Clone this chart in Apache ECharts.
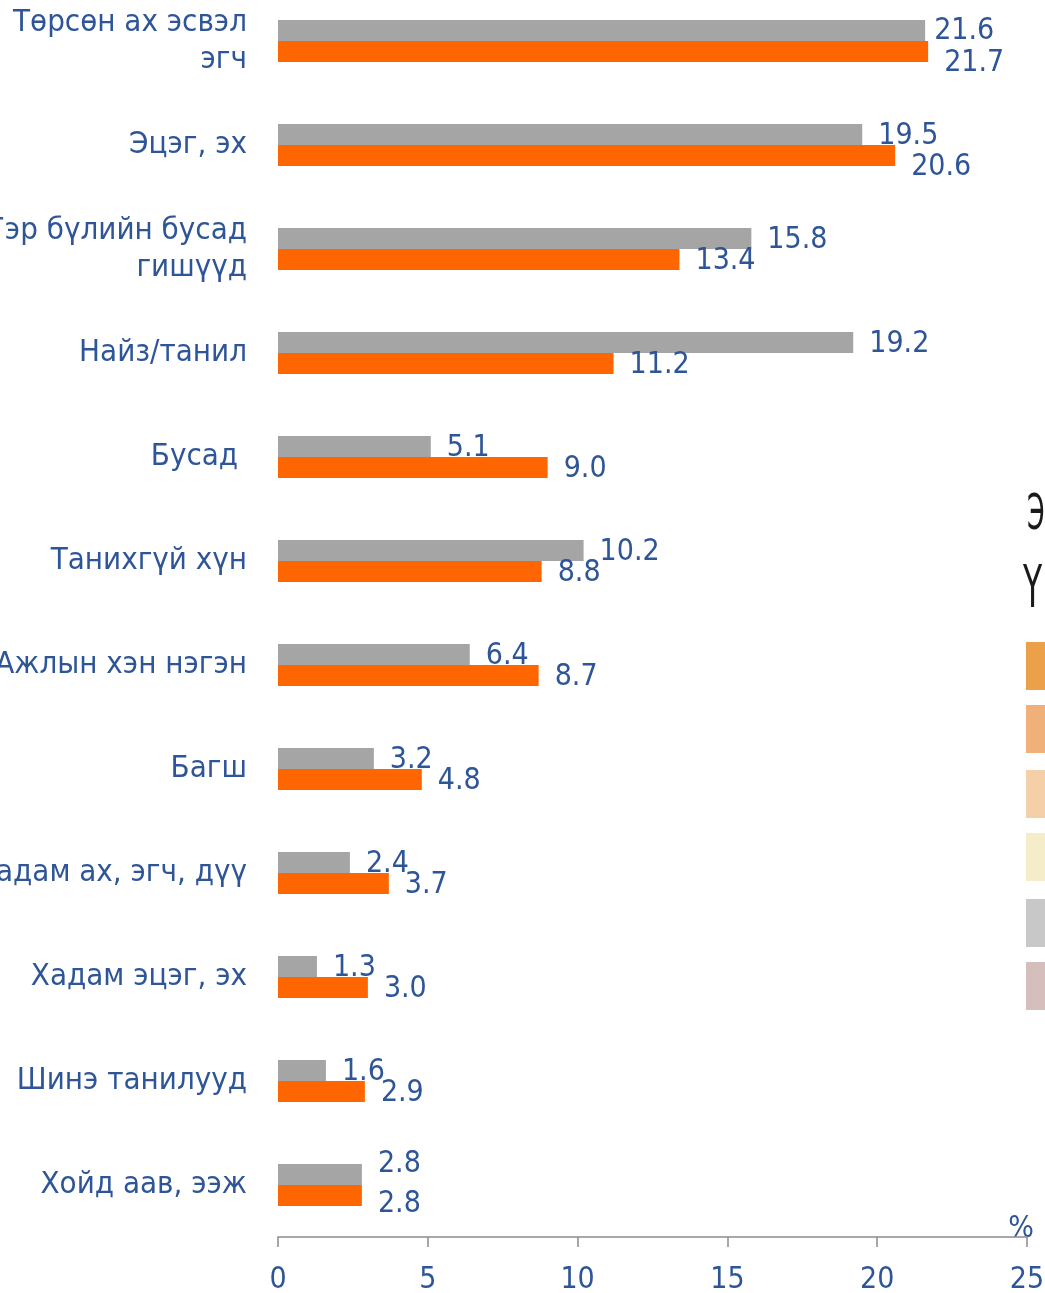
<!DOCTYPE html>
<html>
<head>
<meta charset="utf-8">
<script src="https://cdn.jsdelivr.net/npm/echarts@6/dist/echarts.min.js"></script>
<style>
html,body{margin:0;padding:0;background:#fff;overflow:hidden;}
#chart{width:1045px;height:1293px;}
</style>
</head>
<body>
<div id="chart"></div>
<script>
const categories = [
  "Төрсөн ах эсвэл\nэгч",
  "Эцэг, эх",
  "Гэр бүлийн бусад\nгишүүд",
  "Найз/танил",
  "Бусад ",
  "Танихгүй хүн",
  "Ажлын хэн нэгэн",
  "Багш",
  "Хадам ах, эгч, дүү",
  "Хадам эцэг, эх",
  "Шинэ танилууд",
  "Хойд аав, ээж"
];
const grayValues   = [21.6, 19.5, 15.8, 19.2, 5.1, 10.2, 6.4, 3.2, 2.4, 1.3, 1.6, 2.8];
const orangeValues = [21.7, 20.6, 13.4, 11.2, 9.0, 8.8, 8.7, 4.8, 3.7, 3.0, 2.9, 2.8];
const xTicks = [0, 5, 10, 15, 20, 25];
const legendSwatches = ["#EDA04A", "#EFB07A", "#F4CFA8", "#F5EDCA", "#C8C8C8", "#D4BFBD"];

const TXT = "#2E5597";
const FONT = "DejaVu Sans Condensed";

function labelFor(i, isGray) {
  const g = grayValues[i], o = orangeValues[i];
  let off = [0, 2];
  const d = Math.abs(g - o);
  if (isGray) {
    if (d < 0.05) off = [0, -10];
    else if (d < 0.5 && g < o) off = [-7, 1];
  } else {
    if (d < 0.05) off = [0, 9];
    else if (d < 1.2 && o > g) off = [0, 12];
  }
  return { offset: off };
}

const grayData = grayValues.map((v, i) => ({ value: v, label: labelFor(i, true) }));
const orangeData = orangeValues.map((v, i) => ({ value: v, label: labelFor(i, false) }));

const chart = echarts.init(document.getElementById('chart'), null, { renderer: 'canvas' });

const graphics = [];
const swatchYs = [642, 705, 770, 833, 899, 962];
legendSwatches.forEach((c, i) => {
  graphics.push({ type: 'rect', shape: { x: 1026, y: swatchYs[i], width: 30, height: 48 }, style: { fill: c } });
});
graphics.push({ type: 'text', x: 1027, y: 516, scaleX: 0.56, style: { text: 'Э', fill: '#1a1a1a', font: '50px "DejaVu Sans Condensed"', verticalAlign: 'middle', align: 'left' } });
graphics.push({ type: 'text', x: 1023, y: 592, scaleX: 0.6, style: { text: 'Ү', fill: '#1a1a1a', font: '58px "DejaVu Sans Condensed"', verticalAlign: 'middle', align: 'left' } });
graphics.push({ type: 'text', x: 1021, y: 1229, style: { text: '%', fill: TXT, font: '30px "DejaVu Sans Condensed"', verticalAlign: 'middle', align: 'center' } });

chart.setOption({
  animation: false,
  backgroundColor: '#fff',
  textStyle: { fontFamily: FONT },
  grid: { left: 278, right: 18, top: -11, bottom: 56, containLabel: false, outerBoundsMode: 'none' },
  xAxis: {
    type: 'value',
    min: xTicks[0],
    max: xTicks[xTicks.length - 1],
    interval: xTicks[1] - xTicks[0],
    axisLine: { show: true, lineStyle: { color: '#8c8c8c', width: 1.5 } },
    axisTick: { show: true, length: 10, lineStyle: { color: '#8c8c8c', width: 1.5 } },
    splitLine: { show: false },
    axisLabel: { color: TXT, fontSize: 30, fontFamily: FONT, margin: 28 }
  },
  yAxis: {
    type: 'category',
    inverse: true,
    data: categories,
    axisLine: { show: false },
    axisTick: { show: false },
    axisLabel: { color: TXT, fontSize: 31, fontFamily: FONT, margin: 31, lineHeight: 37, align: 'right' }
  },
  series: [
    {
      name: 'gray', type: 'bar', data: grayData, barWidth: 21, barGap: '0%',
      itemStyle: { color: '#A5A5A5' },
      label: { show: true, position: 'right', distance: 16, color: TXT, fontSize: 30, fontFamily: FONT, formatter: p => p.value.toFixed(1) }
    },
    {
      name: 'orange', type: 'bar', data: orangeData, barWidth: 21, barGap: '0%',
      itemStyle: { color: '#FF6600' },
      label: { show: true, position: 'right', distance: 16, color: TXT, fontSize: 30, fontFamily: FONT, formatter: p => p.value.toFixed(1) }
    }
  ],
  graphic: graphics
});
</script>
</body>
</html>
